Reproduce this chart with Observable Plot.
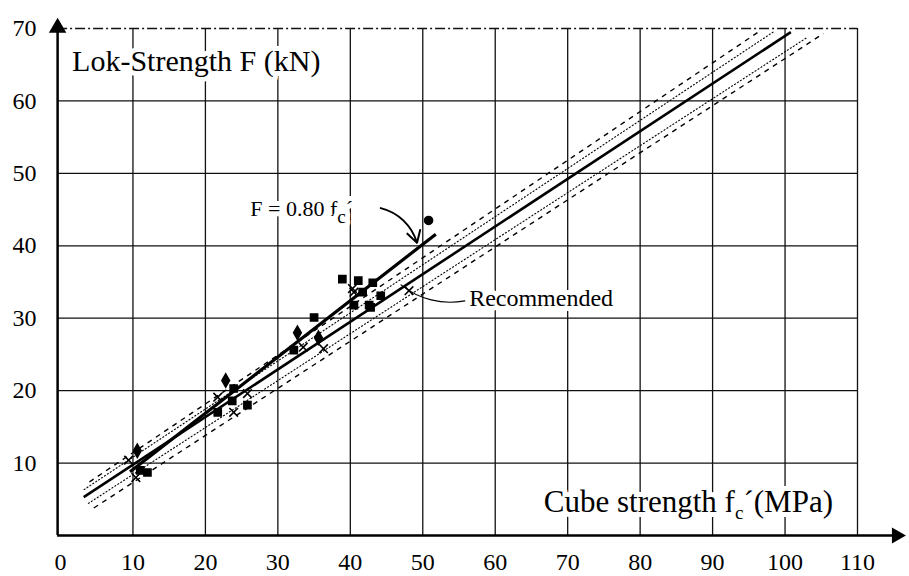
<!DOCTYPE html>
<html>
<head>
<meta charset="utf-8">
<script src="https://cdn.jsdelivr.net/npm/d3@7"></script>
<script src="https://cdn.jsdelivr.net/npm/@observablehq/plot@0.6"></script>
<style>
  html, body { margin: 0; padding: 0; background: #fff; }
  #chart { width: 909px; height: 576px; }
</style>
</head>
<body>
<div id="chart"></div>
<script>
// ---- tick labels / grid ----
const xTicks = [0, 10, 20, 30, 40, 50, 60, 70, 80, 90, 100, 110];
const yTicks = [10, 20, 30, 40, 50, 60, 70];
const gridX = [10, 20, 30, 40, 50, 60, 70, 80, 90, 100, 110];
const gridY = [10, 20, 30, 40, 50, 60];
const gridTop = [70];

// ---- regression lines (end points) ----
const lineNames = ["upperDashed", "upperDotted", "recommended", "lowerDotted", "lowerDashed", "f080"];
const lineX1 = [4.0, 3.2, 3.2, 3.8, 4.6, 9.6];
const lineY1 = [7.4, 6.3, 5.3, 4.4, 3.8, 8.8];
const lineX2 = [96.6, 98.5, 100.8, 103.1, 105.3, 51.8];
const lineY2 = [69.7, 69.6, 69.5, 68.8, 69.3, 41.6];

// ---- test results (cube strength MPa, Lok-strength kN) ----
const ptX = [10.6, 9.4, 11.0, 10.4, 12.0, 22.8, 23.9, 21.7, 23.7, 21.7, 23.9, 25.8, 25.8,
             32.7, 32.2, 33.5, 36.3, 35.0, 40.5, 42.6, 44.2, 40.5, 48.1, 38.9, 41.1, 40.3,
             41.7, 42.8, 43.1, 35.6, 50.8];
const ptY = [11.7, 10.4, 9.0, 8.0, 8.7, 21.4, 20.3, 19.1, 18.6, 17.0, 17.0, 18.0, 19.6,
             28.0, 25.6, 26.0, 25.8, 30.1, 31.8, 31.8, 33.1, 33.6, 33.8, 35.4, 35.2, 34.1,
             33.6, 31.5, 34.9, 27.3, 43.5];
const ptShape = ["diamond", "times", "square", "times", "square", "diamond", "square", "times", "square", "square", "times", "square", "times",
                 "diamond", "square", "times", "times", "square", "square", "square", "square", "times", "times", "square", "square", "times",
                 "square", "square", "square", "diamond", "circle"];

// ---- annotations ----
const labelText = ["Lok-Strength F (kN)", "F = 0.80 f_c´", "Recommended", "Cube strength f_c´(MPa)"];
const labelX = [1.6, 26.2, 56.4, 66.7];
const labelY = [65.4, 45.1, 32.7, 4.6];
const labelSize = [30, 22, 24, 31];

const leaderX1 = [44.2, 47.0];
const leaderY1 = [45.2, 34.6];
const leaderX2 = [49.2, 55.8];
const leaderY2 = [40.4, 32.4];

// axis arrows (data units)
const axisXEnd = 115.4;
const axisYEnd = 70.1;
const yAxisPos = -0.4;

// ---- build tables ----
const lines = lineNames.map((n, i) => ({name: n, x1: lineX1[i], y1: lineY1[i], x2: lineX2[i], y2: lineY2[i]}));
const pts = ptX.map((x, i) => ({x, y: ptY[i], s: ptShape[i]}));
const labels = labelText.map((t, i) => ({t, x: labelX[i], y: labelY[i], size: labelSize[i]}));
const leaders = leaderX1.map((x, i) => ({x1: x, y1: leaderY1[i], x2: leaderX2[i], y2: leaderY2[i]}));
const sel = (n) => lines.filter(d => d.name === n);

const FONT = "'Liberation Serif', 'Times New Roman', serif";

const plot = Plot.plot({
  width: 909,
  height: 576,
  marginLeft: 60,
  marginRight: 52,
  marginTop: 28,
  marginBottom: 41,
  x: {domain: [0, 110], axis: null},
  y: {domain: [0, 70], axis: null},
  symbol: {type: "identity"},
  style: {fontFamily: FONT, fontSize: "24px", background: "white", color: "black", overflow: "visible"},
  marks: [
    // grid
    Plot.ruleX(gridX, {y1: 0, y2: 70, stroke: "#111", strokeWidth: 1.3}),
    Plot.ruleY(gridY, {x1: yAxisPos, x2: 110, stroke: "#111", strokeWidth: 1.3}),
    Plot.ruleY(gridTop, {x1: yAxisPos, x2: 110, stroke: "#111", strokeWidth: 1.3, strokeDasharray: "10,3,2,3"}),
    // tick labels
    Plot.axisX({ticks: xTicks, tickSize: 0, tickPadding: 17, fontSize: 24, fontFamily: FONT, label: null}),
    Plot.axisY({ticks: yTicks, tickSize: 0, tickPadding: 24, fontSize: 24, fontFamily: FONT, label: null}),
    // text labels with white halo (interrupt grid)
    Plot.text(labels, {x: "x", y: "y", text: "t", fontSize: d => d.size, textAnchor: "start",
      fill: "black", stroke: "white", strokeWidth: 10, fontFamily: FONT}),
    // axes
    Plot.ruleY([0], {x1: yAxisPos, x2: axisXEnd, stroke: "black", strokeWidth: 2.5}),
    Plot.ruleX([yAxisPos], {y1: 0, y2: axisYEnd, stroke: "black", strokeWidth: 2.5}),
    Plot.dot([{x: axisXEnd, y: 0}], {x: "x", y: "y", symbol: "triangle", r: 6, fill: "black", rotate: 90}),
    Plot.dot([{x: yAxisPos, y: axisYEnd}], {x: "x", y: "y", symbol: "triangle", r: 6.5, fill: "black"}),
    // bands
    Plot.link(sel("upperDashed"), {x1: "x1", y1: "y1", x2: "x2", y2: "y2", stroke: "black", strokeWidth: 1.4, strokeDasharray: "5,5"}),
    Plot.link(sel("lowerDashed"), {x1: "x1", y1: "y1", x2: "x2", y2: "y2", stroke: "black", strokeWidth: 1.4, strokeDasharray: "5,5"}),
    Plot.link(sel("upperDotted"), {x1: "x1", y1: "y1", x2: "x2", y2: "y2", stroke: "black", strokeWidth: 1.1, strokeDasharray: "2,1.5"}),
    Plot.link(sel("lowerDotted"), {x1: "x1", y1: "y1", x2: "x2", y2: "y2", stroke: "black", strokeWidth: 1.1, strokeDasharray: "2,1.5"}),
    Plot.link(sel("recommended"), {x1: "x1", y1: "y1", x2: "x2", y2: "y2", stroke: "black", strokeWidth: 2.6}),
    Plot.link(sel("f080"), {x1: "x1", y1: "y1", x2: "x2", y2: "y2", stroke: "black", strokeWidth: 3.2}),
    // points
    Plot.dot(pts, {x: "x", y: "y", symbol: "s", r: 4, fill: "black", stroke: "black", strokeWidth: 1.6}),
    // leaders
    Plot.arrow(leaders.slice(0, 1), {x1: "x1", y1: "y1", x2: "x2", y2: "y2", bend: 30, stroke: "black", strokeWidth: 2, headLength: 10}),
    Plot.arrow(leaders.slice(1, 2), {x1: "x1", y1: "y1", x2: "x2", y2: "y2", bend: -25, stroke: "black", strokeWidth: 1.2, headLength: 0})
  ]
});

// subscript c and prime after it
d3.select(plot).selectAll("text").each(function () {
  const s = this.textContent;
  if (!s.includes("_c")) return;
  const [a, b] = s.split("_c");
  const el = d3.select(this);
  const fs = parseFloat(getComputedStyle(this).fontSize) || 24;
  el.text(null);
  el.append("tspan").text(a);
  el.append("tspan").attr("dy", fs * 0.3).attr("font-size", fs * 0.8).text("c");
  el.append("tspan").attr("dy", -fs * 0.3).text(b);
});

document.getElementById("chart").appendChild(plot);
</script>
</body>
</html>
